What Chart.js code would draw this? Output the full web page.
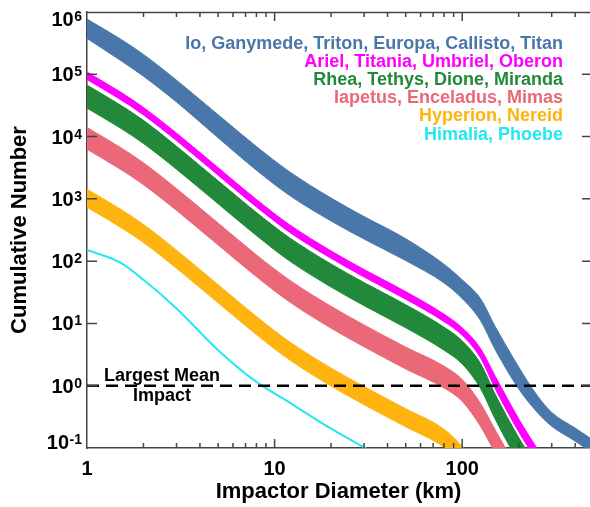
<!DOCTYPE html>
<html>
<head>
<meta charset="utf-8">
<script src="https://cdn.jsdelivr.net/npm/chart.js@4/dist/chart.umd.min.js"></script>
<style>
html, body { margin: 0; padding: 0; background: #fff; }
#wrap { width: 590px; height: 507px; }
</style>
</head>
<body>
<div id="wrap"><canvas id="craters" width="590" height="507"></canvas></div>
<script>
/* cumulative impactor counts vs impactor diameter, one band per satellite group */

const diam = [1, 1.5, 2, 3, 5, 8, 12, 20, 30, 50, 80, 100, 125, 150, 200, 250, 300, 400, 500];

const ioHi = [7.69e5, 3.71e5, 2.08e5, 8.04e4, 2.24e4, 6930, 2730, 1030, 519, 229, 89.1, 50.1, 25.1, 8.91, 2.00, 0.708, 0.372, 0.209, 0.133];
const ioLo = [3.77e5, 1.69e5, 9.31e4, 3.59e4, 9570, 2890, 1140, 441, 226, 102, 44.7, 25.1, 11.2, 3.80, 0.891, 0.380, 0.224, 0.129, 0.0813];

const arielHi = [1.087e5, 5.24e4, 2.94e4, 1.135e4, 3170, 979, 385, 146, 73.3, 32.4, 14.1, 8.51, 3.98, 1.42, 0.295, 0.100, 0.0447];
const arielLo = [8.24e4, 3.97e4, 2.23e4, 8610, 2400, 743, 292, 111, 55.6, 24.5, 10.7, 6.46, 2.82, 0.895, 0.182, 0.0631, 0.0282];

const rheaHi = [6.70e4, 3.23e4, 1.82e4, 7000, 1950, 604, 238, 89.9, 45.2, 20.0, 8.71, 5.25, 2.29, 0.728, 0.148, 0.0513];
const rheaLo = [2.86e4, 1.38e4, 7740, 2990, 834, 258, 101, 38.4, 19.3, 8.51, 3.72, 2.24, 0.912, 0.290, 0.0589, 0.0204];

const iapetusHi = [1.40e4, 6750, 3790, 1460, 408, 126, 49.7, 18.8, 9.44, 4.17, 2.06, 1.26, 0.525, 0.195, 0.0417];
const iapetusLo = [6250, 3010, 1690, 653, 182, 56.4, 22.2, 8.39, 4.22, 1.86, 0.920, 0.562, 0.224, 0.0832, 0.0178];

const hyperionHi = [1430, 690, 388, 150, 41.8, 12.9, 5.08, 1.92, 0.966, 0.427, 0.200, 0.105, 0.0398];
const hyperionLo = [735, 354, 199, 76.7, 21.4, 6.62, 2.61, 0.986, 0.495, 0.219, 0.102, 0.0525, 0.020];

const himaliaDiam = [1, 1.5, 2, 3, 5, 8, 12, 20, 30, 40];
const himaliaN = [151, 95.5, 50.1, 17.4, 3.72, 1.15, 0.537, 0.204, 0.102, 0.063];

const meanImpact = [1, 1];
const meanImpactDiam = [1, 480];

const groupNames = [
    'Io, Ganymede, Triton, Europa, Callisto, Titan',
    'Ariel, Titania, Umbriel, Oberon',
    'Rhea, Tethys, Dione, Miranda',
    'Iapetus, Enceladus, Mimas',
    'Hyperion, Nereid',
    'Himalia, Phoebe'
];
const groupColors = ['#4a77a9', '#ff00ff', '#22893a', '#ea6878', '#ffb30f', '#22e8f0'];

const xMajor = [1, 10, 100];
const xMinor = [2, 3, 4, 5, 6, 7, 8, 9, 20, 30, 40, 50, 60, 70, 80, 90, 200, 300, 400];
const yPowers = [-1, 0, 1, 2, 3, 4, 5, 6];

const FONT = '"Liberation Sans", Arial, Helvetica, sans-serif';

function pts(xs, ys) {
    return ys.map((v, i) => ({ x: xs[i], y: v }));
}

function band(name, hi, lo, color) {
    const base = {
        borderColor: color,
        borderWidth: 1,
        pointRadius: 0,
        cubicInterpolationMode: 'monotone',
        order: 2
    };
    return [
        Object.assign({ label: name + ' (low)', data: pts(diam, lo), fill: false }, base),
        Object.assign({ label: name, data: pts(diam, hi), fill: '-1', backgroundColor: color }, base)
    ];
}

const datasets = [].concat(
    band(groupNames[0], ioHi, ioLo, groupColors[0]),
    band(groupNames[1], arielHi, arielLo, groupColors[1]),
    band(groupNames[2], rheaHi, rheaLo, groupColors[2]),
    band(groupNames[3], iapetusHi, iapetusLo, groupColors[3]),
    band(groupNames[4], hyperionHi, hyperionLo, groupColors[4]),
    [{
        label: groupNames[5],
        data: pts(himaliaDiam, himaliaN),
        borderColor: groupColors[5],
        borderWidth: 2,
        pointRadius: 0,
        cubicInterpolationMode: 'monotone',
        fill: false,
        order: 2
    }, {
        label: 'Largest Mean Impact',
        data: pts(meanImpactDiam, meanImpact),
        borderColor: '#000',
        borderWidth: 2.5,
        borderDash: [12, 7],
        pointRadius: 0,
        fill: false,
        order: 0
    }]
);

// inward ticks, top spine, superscript y labels, group names, annotation
const decorations = {
    id: 'decorations',
    afterDatasetsDraw(chart) {
        const { ctx, chartArea: a, scales: { x, y } } = chart;
        ctx.save();
        ctx.strokeStyle = '#444';
        ctx.lineWidth = 1.5;
        ctx.beginPath();
        ctx.moveTo(a.left, a.top + 0.5);
        ctx.lineTo(a.right, a.top + 0.5);
        xMajor.forEach(v => {
            const px = x.getPixelForValue(v);
            if (px <= a.left + 1) return;
            ctx.moveTo(px, a.bottom); ctx.lineTo(px, a.bottom - 9);
            ctx.moveTo(px, a.top); ctx.lineTo(px, a.top + 9);
        });
        xMinor.forEach(v => {
            const px = x.getPixelForValue(v);
            ctx.moveTo(px, a.bottom); ctx.lineTo(px, a.bottom - 5);
            ctx.moveTo(px, a.top); ctx.lineTo(px, a.top + 5);
        });
        yPowers.forEach(p => {
            const py = y.getPixelForValue(Math.pow(10, p));
            if (py <= a.top + 1 || py >= a.bottom - 1) return;
            ctx.moveTo(a.left, py); ctx.lineTo(a.left + 10, py);
            ctx.moveTo(a.right, py); ctx.lineTo(a.right - 8, py);
        });
        ctx.stroke();

        // y tick labels as 10 with a raised exponent
        ctx.fillStyle = '#000';
        ctx.textBaseline = 'alphabetic';
        ctx.textAlign = 'right';
        yPowers.forEach(p => {
            const py = y.getPixelForValue(Math.pow(10, p));
            const cy = Math.min(Math.max(py, a.top + 6.5), a.bottom - 6.5);
            const exp = p < 0 ? '-' + Math.abs(p) : String(p);
            const right = a.left - 5;
            ctx.font = 'bold 14px ' + FONT;
            const ew = ctx.measureText(exp).width;
            ctx.fillText(exp, right, cy + 2);
            ctx.font = 'bold 20px ' + FONT;
            ctx.fillText('10', right - ew - 0.5, cy + 7);
        });

        // group names, right aligned in the upper corner
        ctx.font = 'bold 18px ' + FONT;
        groupNames.forEach((name, i) => {
            ctx.fillStyle = groupColors[i];
            ctx.fillText(name, a.right - 27, a.top + 36.5 + i * 18.2);
        });

        // label on the dashed line
        const ly = y.getPixelForValue(meanImpact[0]);
        ctx.fillStyle = '#000';
        ctx.textAlign = 'center';
        ctx.fillText('Largest Mean', a.left + 75, ly - 5);
        ctx.fillText('Impact', a.left + 75, ly + 15.5);
        ctx.restore();
    }
};

new Chart(document.getElementById('craters'), {
    type: 'line',
    data: { datasets: datasets },
    options: {
        responsive: false,
        animation: false,
        layout: { padding: { top: 12, right: 0, left: 0, bottom: 0 } },
        plugins: {
            legend: { display: false },
            tooltip: { enabled: false }
        },
        scales: {
            x: {
                type: 'logarithmic',
                min: 1,
                max: 480,
                grid: { display: false, drawTicks: false },
                border: { display: true, color: '#444', width: 1.5 },
                ticks: {
                    autoSkip: false,
                    maxRotation: 0,
                    padding: 9,
                    color: '#000',
                    font: { family: FONT, size: 20, weight: 'bold' },
                    callback: (v) => xMajor.includes(v) ? String(v) : ''
                },
                title: {
                    display: true,
                    text: 'Impactor Diameter (km)',
                    color: '#000',
                    font: { family: FONT, size: 22, weight: 'bold' },
                    padding: { top: 0, bottom: 2 }
                },
                afterFit: (s) => { s.height = 59; s.paddingLeft = 0; s.paddingRight = 0; }
            },
            y: {
                type: 'logarithmic',
                min: 0.1,
                max: 1e6,
                grid: { display: false, drawTicks: false },
                border: { display: true, color: '#444', width: 1.5 },
                ticks: { display: false },
                title: {
                    display: true,
                    text: 'Cumulative Number',
                    color: '#000',
                    font: { family: FONT, size: 22, weight: 'bold' },
                    padding: { top: 7, bottom: 0 }
                },
                afterFit: (s) => { s.width = 87; }
            }
        }
    },
    plugins: [decorations]
});
</script>
</body>
</html>
